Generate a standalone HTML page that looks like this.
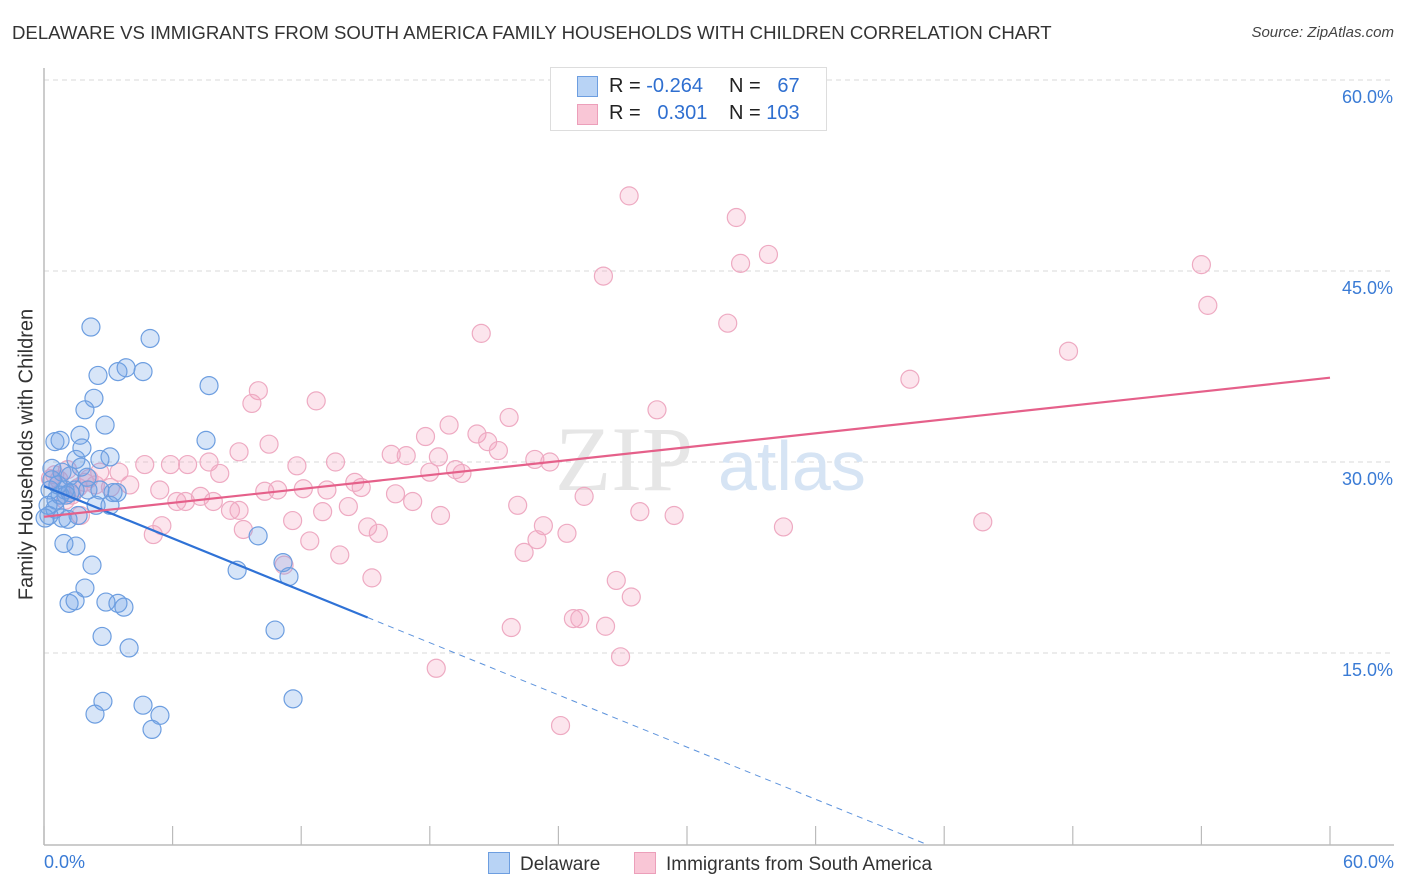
<!DOCTYPE html>
<html><head><meta charset="utf-8">
<style>
body{margin:0;background:#fff;font-family:"Liberation Sans",sans-serif;}
#wrap{position:relative;width:1406px;height:892px;overflow:hidden;}
.t{position:absolute;white-space:nowrap;}
</style></head>
<body>
<div id="wrap">
<div class="t" style="left:12px;top:22px;font-size:18.6px;color:#333;">DELAWARE VS IMMIGRANTS FROM SOUTH AMERICA FAMILY HOUSEHOLDS WITH CHILDREN CORRELATION CHART</div>
<div class="t" style="right:12px;top:24px;font-size:15px;color:#444;font-style:italic;">Source: ZipAtlas.com</div>
<svg id="svg" width="1406" height="892" style="position:absolute;left:0;top:0"></svg>
</div>
<script>
const blueX=[2.19,4.95,2.52,3.45,3.83,4.62,7.70,2.33,1.91,2.85,1.68,0.51,0.75,7.56,1.77,3.08,1.49,2.61,1.73,0.37,0.84,1.21,2.01,3.22,3.41,2.43,1.59,0.51,0.23,0.84,1.12,9.99,1.49,0.93,2.24,9.01,1.91,1.17,1.45,2.89,3.45,3.73,11.43,11.15,2.71,3.97,10.78,2.75,4.62,2.38,5.41,5.04,11.62,0.28,0.37,0.56,0.75,0.98,1.21,0.19,0.65,0.05,1.45,2.05,2.61,3.08,1.03];
const blueY=[40.6,39.7,36.8,37.1,37.4,37.1,36.0,35.0,34.1,32.9,32.1,31.6,31.7,31.7,31.1,30.4,30.2,30.2,29.6,29.5,29.2,28.9,28.8,27.6,27.6,26.6,25.8,26.3,25.8,25.6,25.5,24.2,23.4,23.6,21.9,21.5,20.1,18.9,19.1,19.0,18.9,18.6,21.0,22.1,16.3,15.4,16.8,11.2,10.9,10.2,10.1,9.0,11.4,27.8,28.6,27.0,27.4,27.8,27.6,26.6,28.2,25.6,27.8,27.8,27.8,26.6,27.4];
const pinkX=[27.3,32.3,26.1,33.8,32.5,54.0,54.3,31.9,20.4,47.8,40.4,10.0,9.7,12.7,28.6,21.7,18.9,17.8,20.2,20.7,21.2,10.5,9.1,16.2,16.9,18.4,22.9,23.6,4.7,5.9,6.7,7.7,11.8,13.6,18.0,19.2,19.5,8.2,3.5,2.6,16.4,17.2,13.2,14.8,14.5,12.1,10.9,10.3,7.3,6.6,6.2,7.9,8.7,9.1,5.4,4.0,3.1,2.4,1.6,0.7,1.1,0.5,1.7,13.0,14.2,11.6,25.2,22.1,18.5,27.8,29.4,34.5,43.8,23.3,24.4,23.0,15.6,15.1,12.4,9.3,5.5,5.1,22.4,13.8,15.3,26.7,27.4,24.7,25.0,26.2,21.8,26.9,18.3,24.1,11.2,0.3,2.1,1.3,1.9,1.0];
const pinkY=[50.9,49.2,44.6,46.3,45.6,45.5,42.3,40.9,40.1,38.7,36.5,35.6,34.6,34.8,34.1,33.5,32.9,32.0,32.2,31.6,30.9,31.4,30.8,30.6,30.5,30.4,30.2,30.0,29.8,29.8,29.8,30.0,29.7,30.0,29.2,29.4,29.1,29.1,29.2,29.2,27.5,26.9,27.8,28.0,28.4,27.9,27.8,27.7,27.3,26.9,26.9,26.9,26.2,26.2,27.8,28.2,28.0,28.2,28.0,28.6,29.4,29.0,25.8,26.1,26.5,25.4,27.3,26.6,25.8,26.1,25.8,24.9,25.3,25.0,24.4,23.9,24.4,24.9,23.8,24.7,25.0,24.3,22.9,22.7,20.9,20.7,19.4,17.7,17.7,17.1,17.0,14.7,13.8,9.3,21.9,28.7,28.7,27.4,28.4,27.0];
const yTicks=[15,30,45,60];
const yTickLabels=["15.0%","30.0%","45.0%","60.0%"];
const xTicks=[0,6,12,18,24,30,36,42,48,54,60];
const blueTrend=[28.1,-0.683,15.1];
const pinkTrend=[25.7,0.182];

const NS="http://www.w3.org/2000/svg";
const svg=document.getElementById('svg');
const X=v=>44+v*(1286/60);
const Y=v=>844-v*(191/15);
function mk(tag,attrs,parent){const e=document.createElementNS(NS,tag);for(const k in attrs)e.setAttribute(k,attrs[k]);(parent||svg).appendChild(e);return e;}

yTicks.forEach((t,i)=>{
  const g=mk('line',{x1:44,x2:1394,y1:Y(t),y2:Y(t),stroke:'#d8d8d8','stroke-dasharray':'5,4'});
  
  
  const tx=mk('text',{x:1393,y:Y(t)+23,'text-anchor':'end','font-size':18,fill:'#3a7bd5','font-family':'Liberation Sans, sans-serif'});
  tx.textContent=yTickLabels[i];
  
  
});
const ya=mk('line',{x1:44,x2:44,y1:68,y2:845,stroke:'#bbb','stroke-width':1.5});


const xa=mk('line',{x1:44,x2:1394,y1:845,y2:845,stroke:'#bbb','stroke-width':1.5});


xTicks.forEach(t=>{
  const tk=mk('line',{x1:X(t),x2:X(t),y1:826,y2:845,stroke:'#bbb','stroke-width':1.2});
  
  
});
const wm=mk('text',{x:555,y:490,'font-size':92,fill:'#e6e6e6','font-family':'Liberation Serif, serif'});
wm.textContent='ZIP';


const wm2=mk('text',{x:718,y:490,'font-size':70,fill:'#d6e4f4','font-family':'Liberation Sans, sans-serif'});
wm2.textContent='atlas';



pinkX.forEach((x,i)=>{
  const c=mk('circle',{cx:X(x),cy:Y(pinkY[i]),r:9,fill:'rgba(244,160,190,0.28)',stroke:'#eeaac2','stroke-width':1.2});
  
  
});
blueX.forEach((x,i)=>{
  const c=mk('circle',{cx:X(x),cy:Y(blueY[i]),r:9,fill:'rgba(110,160,230,0.28)',stroke:'#6d9ee0','stroke-width':1.2});
  
  
});
const bEnd=blueTrend[2], bZero=-blueTrend[0]/blueTrend[1];
const bl=mk('line',{x1:X(0),y1:Y(blueTrend[0]),x2:X(bEnd),y2:Y(blueTrend[0]+blueTrend[1]*bEnd),stroke:'#2f72d6','stroke-width':2.2});


const bd=mk('line',{x1:X(bEnd),y1:Y(blueTrend[0]+blueTrend[1]*bEnd),x2:X(bZero),y2:Y(0),stroke:'#5d93dc','stroke-width':1,'stroke-dasharray':'6,5'});


const pl=mk('line',{x1:X(0),y1:Y(pinkTrend[0]),x2:X(60),y2:Y(pinkTrend[0]+pinkTrend[1]*60),stroke:'#e5608a','stroke-width':2.2});


</script>
<div class="t" style="left:-123px;top:443px;width:300px;text-align:center;transform:rotate(-90deg);font-size:20px;color:#333;">Family Households with Children</div>
<div class="t" style="left:44px;top:852px;font-size:18px;color:#3a7bd5;">0.0%</div>
<div class="t" style="right:12px;top:852px;font-size:18px;color:#3a7bd5;">60.0%</div>
<div style="position:absolute;left:550px;top:67px;width:275px;height:62px;border:1px solid #ddd;background:#fff;font-size:20px;">
  <div style="position:absolute;left:26px;top:8px;width:19px;height:19px;background:#b8d3f5;border:1px solid #6d9ee0;"></div>
  <div style="position:absolute;left:26px;top:36px;width:19px;height:19px;background:#f9c6d6;border:1px solid #ec9fba;"></div>
  <div class="t" style="left:58px;top:7px;color:#222;">R = <span style="color:#2f6fd0">-0.264</span></div>
  <div class="t" style="left:178px;top:7px;color:#222;">N = &nbsp;&nbsp;<span style="color:#2f6fd0">67</span></div>
  <div class="t" style="left:58px;top:34px;color:#222;">R = &nbsp;&nbsp;<span style="color:#2f6fd0">0.301</span></div>
  <div class="t" style="left:178px;top:34px;color:#222;">N = <span style="color:#2f6fd0">103</span></div>
</div>
<div style="position:absolute;left:488px;top:852px;font-size:19px;color:#333;">
  <div style="position:absolute;left:0;top:0;white-space:nowrap;"><span style="display:inline-block;width:20px;height:20px;background:#b8d3f5;border:1px solid #6d9ee0;vertical-align:-4px;margin-right:10px;"></span>Delaware</div>
  <div style="position:absolute;left:146px;top:0;white-space:nowrap;"><span style="display:inline-block;width:20px;height:20px;background:#f9c6d6;border:1px solid #ec9fba;vertical-align:-4px;margin-right:10px;"></span>Immigrants from South America</div>
</div>
</body></html>
